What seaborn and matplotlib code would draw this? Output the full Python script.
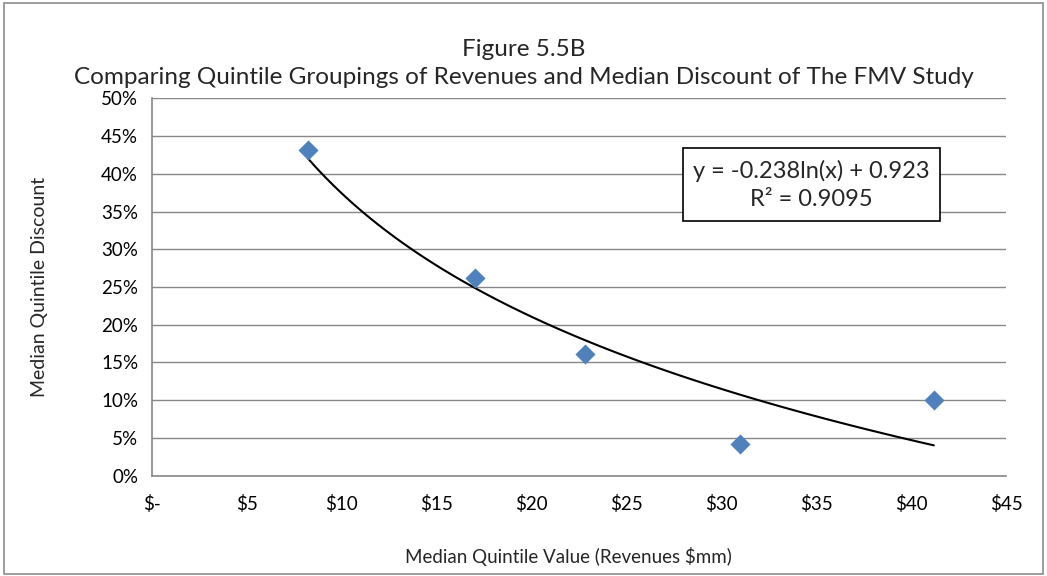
import numpy as np
import pandas as pd
import matplotlib
matplotlib.use("Agg")
import matplotlib.pyplot as plt
import seaborn as sns
from matplotlib.patches import Rectangle
from matplotlib.ticker import FuncFormatter, MultipleLocator

# Quintile data
revenues = [8.2, 17.0, 22.8, 31.0, 41.2]          # median quintile value, $mm
discount = [0.432, 0.262, 0.161, 0.042, 0.100]     # median quintile discount

df = pd.DataFrame({"revenues": revenues, "discount": discount})

sns.set_style("white")
plt.rcParams["font.family"] = ["Lato", "DejaVu Sans"]

grid_c = "#878787"
blue = "#4F81BD"

fig = plt.figure(figsize=(10.47, 5.76), dpi=100)
ax = fig.add_axes([0.1452, 0.1741, 0.8156, 0.6552])

# outer chart border
fig.patches.append(Rectangle((0.004, 0.004), 0.992, 0.99, transform=fig.transFigure,
                             fill=False, ec="#8c8c8c", lw=1.2))

# log trendline + points
sns.regplot(data=df, x="revenues", y="discount", logx=True, ci=None, scatter=False,
            line_kws={"color": "black", "lw": 1.5}, ax=ax)
sns.scatterplot(data=df, x="revenues", y="discount", marker="D", s=105,
                color=blue, edgecolor=blue, linewidth=0, ax=ax, zorder=3)

ax.set_xlim(0, 45)
ax.set_ylim(0, 0.5)
ax.xaxis.set_major_locator(MultipleLocator(5))
ax.yaxis.set_major_locator(MultipleLocator(0.05))
ax.xaxis.set_major_formatter(FuncFormatter(lambda v, p: "$-" if v == 0 else f"${v:.0f}"))
ax.yaxis.set_major_formatter(FuncFormatter(lambda v, p: f"{v*100:.0f}%"))

ax.grid(axis="y", color=grid_c, lw=1.0)
ax.set_axisbelow(True)
for s in ["top", "right"]:
    ax.spines[s].set_visible(False)
for s in ["left", "bottom"]:
    ax.spines[s].set_color(grid_c)
    ax.spines[s].set_linewidth(1.2)
ax.tick_params(axis="both", direction="out", length=5, width=1.2, color=grid_c,
               labelsize=13.5, labelcolor="black", pad=5)
ax.tick_params(axis="x", pad=9)

ax.set_xlabel("")
ax.set_ylabel("")
fig.text(568 / 1047, 1 - 556 / 576, "Median Quintile Value (Revenues $mm)",
         ha="center", va="center", fontsize=13.5)
fig.text(40 / 1047, 1 - 287 / 576, "Median Quintile Discount", rotation=90,
         ha="center", va="center", fontsize=14)

fig.text(0.5, 1 - 50 / 576, "Figure 5.5B", ha="center", va="center", fontsize=17.5)
fig.text(0.5, 1 - 77 / 576,
         "Comparing Quintile Groupings of Revenues and Median Discount of The FMV Study",
         ha="center", va="center", fontsize=17.5)

# equation box
fig.patches.append(Rectangle((683 / 1047, 1 - 221 / 576), 257 / 1047, 73 / 576,
                             transform=fig.transFigure, fc="white", ec="black", lw=1.2, zorder=5))
fig.text(811 / 1047, 1 - 171 / 576, "y = -0.238ln(x) + 0.923", ha="center", va="center",
         fontsize=17, zorder=6)
fig.text(811 / 1047, 1 - 199 / 576, "R² = 0.9095", ha="center", va="center",
         fontsize=17, zorder=6)

fig.savefig("out.png", dpi=100)
